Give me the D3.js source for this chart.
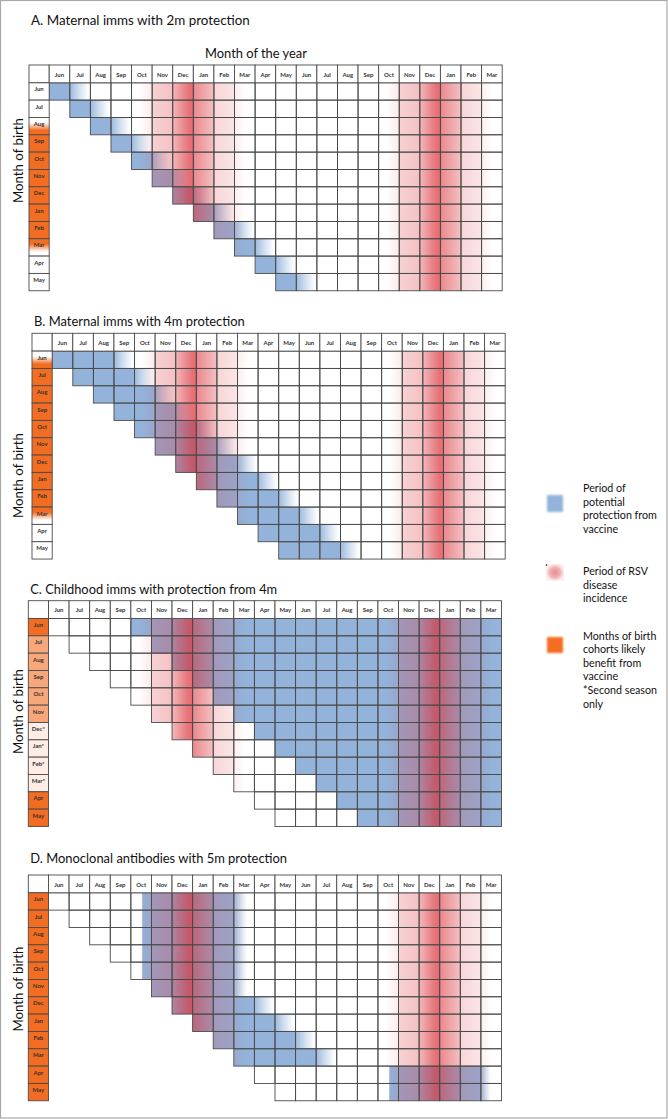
<!DOCTYPE html>
<html><head><meta charset="utf-8">
<script src="https://cdn.jsdelivr.net/npm/d3@7"></script>
<style>body{margin:0;background:#fff}svg{display:block}text{font-family:Lato,"Open Sans",sans-serif}</style>
</head><body><svg id="c" width="668" height="1119"></svg>
<script>
// ---------- DATA ----------
const monthCols = ["Jun","Jul","Aug","Sep","Oct","Nov","Dec","Jan","Feb","Mar","Apr","May","Jun","Jul","Aug","Sep","Oct","Nov","Dec","Jan","Feb","Mar"];
const birthMonths = ["Jun","Jul","Aug","Sep","Oct","Nov","Dec","Jan","Feb","Mar","Apr","May"];
const birthLabelsC = ["Jun","Jul","Aug","Sep","Oct","Nov","Dec*","Jan*","Feb*","Mar*","Apr","May"];
const rowStartCol = [0,1,2,3,4,5,6,7,8,9,10,11];
const panelTitles = ["A.  Maternal imms with 2m protection","B. Maternal imms with 4m protection","C. Childhood imms with protection from 4m","D. Monoclonal antibodies with 5m protection"];
const xAxisTitle = "Month of the year";
const yAxisTitle = "Month of birth";

// RSV season (Oct..Mar) start columns and incidence profile (months from Oct, relative level)
const rsvSeasonStartCol = [4, 16];
const rsvSeasonLength = 6;
const rsvOffset = [0, 0.35, 1.0, 1.0, 2.0, 2.0, 2.75, 3.0, 3.0, 4.0, 4.0, 5.0, 5.0, 5.55, 6.0];
const rsvLevel  = [0, 0,    0.14,0.3, 0.42,0.48,0.92, 1.0, 0.8, 0.42,0.28,0.17,0.11,0,    0];

// protection periods (column units): start, end of full protection, end of fading
const protStartA   = [0,1,2,3,4,5,6,7,8,9,10,11];
const protFullEndA = [1,2,3,4,5,6,7,8,9,10,11,12];
const protFadeEndA = [2,3,4,5,6,7,8,9,10,11,12,13];
const protStartB   = [0,1,2,3,4,5,6,7,8,9,10,11];
const protFullEndB = [3,4,5,6,7,8,9,10,11,12,13,14];
const protFadeEndB = [4,5,6,7,8,9,10,11,12,13,14,15];
const protStartC   = [4,5,6,7,8,9,10,11,12,13,14,15];
const protFullEndC = [22,22,22,22,22,22,22,22,22,22,22,22];
const protFadeEndC = [22,22,22,22,22,22,22,22,22,22,22,22];
const protStartD   = [4.55,4.55,4.55,4.55,4.55,5,6,7,8,9,16.55,16.55];
const protFullEndD = [9,9,9,9,9,9,10,11,12,13,21,21];
const protFadeEndD = [9.7,9.7,9.7,9.7,9.7,9.7,11,12,13,14,21.5,21.5];

// benefit shading of birth-month cohorts (0 none .. 1 full), at top and bottom of the label cell
const benefitTopA    = [0,0,0,1,1,1,1,1,1,1,0,0];
const benefitBottomA = [0,0,1,1,1,1,1,1,1,0,0,0];
const benefitTopB    = [0,1,1,1,1,1,1,1,1,1,0,0];
const benefitBottomB = [1,1,1,1,1,1,1,1,1,0,0,0];
const benefitTopC    = [1,0.6,0.6,0.6,0.6,0.6,0.12,0.12,0.12,0.12,1,1];
const benefitBottomC = [1,0.6,0.6,0.6,0.6,0.6,0.12,0.12,0.12,0.12,1,1];
const benefitTopD    = [1,1,1,1,1,1,1,1,1,1,1,1];
const benefitBottomD = [1,1,1,1,1,1,1,1,1,1,1,1];

const legendBlue = ["Period of","potential","protection from","vaccine"];
const legendRed = ["Period of RSV","disease","incidence"];
const legendOrange = ["Months of birth","cohorts likely","benefit from","vaccine","*Second season","only"];

// ---------- DRAW ----------
const BLUE = "#93b3db", ORANGE = "#f26d21", RED = "rgb(219,48,56)", GRID = "#4a4a4a";
const svg = d3.select("#c");
const defs = svg.append("defs");

svg.append("rect").attr("x",0.5).attr("y",0.5).attr("width",666.5).attr("height",1117.5)
  .attr("fill","#fff").attr("stroke","#a8a8a8").attr("stroke-width",1.2);

const rsvGrad = defs.append("linearGradient").attr("id","rsv").attr("x1",0).attr("x2",1).attr("y1",0).attr("y2",0);
rsvOffset.forEach((o,i)=>rsvGrad.append("stop").attr("offset",o/rsvSeasonLength).attr("stop-color",RED).attr("stop-opacity",rsvLevel[i]*0.72));

const bfade = defs.append("linearGradient").attr("id","bfade").attr("x1",0).attr("x2",1).attr("y1",0).attr("y2",0);
[[0,0.9],[0.45,0.42],[0.85,0.05],[1,0]].forEach(s=>bfade.append("stop").attr("offset",s[0]).attr("stop-color",BLUE).attr("stop-opacity",s[1]));

const orangeMix = d3.interpolateRgb("#ffffff", ORANGE);
function labelFill(t,b){
  if (t===b) return orangeMix(t);
  const id = "lab_"+String(t).replace(".","_")+"_"+String(b).replace(".","_");
  if (defs.select("#"+id).empty()){
    const gr = defs.append("linearGradient").attr("id",id).attr("x1",0).attr("x2",0).attr("y1",0).attr("y2",1);
    [[0,t],[0.3,t],[0.75,b],[1,b]].forEach(s=>gr.append("stop").attr("offset",s[0]).attr("stop-color",orangeMix(s[1])));
  }
  return "url(#"+id+")";
}

function fit(sel, w){
  const L = sel.node().getComputedTextLength();
  const fs = parseFloat(sel.attr("font-size"));
  sel.attr("font-size", fs*w/L);
  return sel;
}

const panels = [
  {key:"A", left:29,   top:65,    start:protStartA, full:protFullEndA, fade:protFadeEndA, bt:benefitTopA, bb:benefitBottomA, labels:birthMonths,
   title:panelTitles[0], titleY:25, titleW:219, yCenter:160.5},
  {key:"B", left:32,   top:333.3, start:protStartB, full:protFullEndB, fade:protFadeEndB, bt:benefitTopB, bb:benefitBottomB, labels:birthMonths,
   title:panelTitles[1], titleY:326, titleW:211, yCenter:475.5},
  {key:"C", left:28.3, top:600.7, start:protStartC, full:protFullEndC, fade:protFadeEndC, bt:benefitTopC, bb:benefitBottomC, labels:birthLabelsC,
   title:panelTitles[2], titleY:594, titleW:247, yCenter:711.5},
  {key:"D", left:28.3, top:875,   start:protStartD, full:protFullEndD, fade:protFadeEndD, bt:benefitTopD, bb:benefitBottomD, labels:birthMonths,
   title:panelTitles[3], titleY:862.5, titleW:257, yCenter:989}
];

const labelW = 20.2, colW = 20.59, headH = 17.8, rowH = 17.33;

panels.forEach(p=>{
  const g = svg.append("g");
  const x = d3.scaleLinear().domain([0, monthCols.length]).range([p.left+labelW, p.left+labelW+colW*monthCols.length]);
  const y = d3.scaleLinear().domain([0, birthMonths.length]).range([p.top+headH, p.top+headH+rowH*birthMonths.length]);
  const rows = birthMonths.map((d,i)=>i);

  // title
  fit(g.append("text").attr("x",p.left+2).attr("y",p.titleY).attr("font-size",14).attr("fill","#111").text(p.title), p.titleW);
  // y axis title
  fit(g.append("text").attr("transform",`translate(22.5,${p.yCenter}) rotate(-90)`).attr("text-anchor","middle")
      .attr("font-size",14).attr("fill","#111").text(yAxisTitle), 85);

  // clip of existing cells
  const clipId = "clip"+p.key;
  defs.append("clipPath").attr("id",clipId).selectAll("rect").data(rows).join("rect")
    .attr("x",i=>x(rowStartCol[i])).attr("y",i=>y(i))
    .attr("width",i=>x(monthCols.length)-x(rowStartCol[i])).attr("height",rowH);
  const body = g.append("g").attr("clip-path",`url(#${clipId})`);

  // protection (blue)
  body.selectAll("rect.full").data(rows.filter(i=>p.full[i]>p.start[i])).join("rect").attr("class","full")
    .attr("x",i=>x(p.start[i])).attr("y",i=>y(i)).attr("width",i=>x(p.full[i])-x(p.start[i])).attr("height",rowH).attr("fill",BLUE);
  body.selectAll("rect.fade").data(rows.filter(i=>p.fade[i]>p.full[i])).join("rect").attr("class","fade")
    .attr("x",i=>x(p.full[i])).attr("y",i=>y(i)).attr("width",i=>x(p.fade[i])-x(p.full[i])).attr("height",rowH).attr("fill","url(#bfade)");

  // RSV incidence (red)
  body.selectAll("rect.rsv").data(rsvSeasonStartCol).join("rect").attr("class","rsv")
    .attr("x",s=>x(s)).attr("width",s=>x(s+rsvSeasonLength)-x(s))
    .attr("y",y(0)).attr("height",y(birthMonths.length)-y(0)).attr("fill","url(#rsv)");

  // grid cells
  const cells = [];
  rows.forEach(i=>{ for(let c=rowStartCol[i]; c<monthCols.length; c++) cells.push({r:i,c:c}); });
  g.append("g").selectAll("rect").data(cells).join("rect")
    .attr("x",d=>x(d.c)).attr("y",d=>y(d.r)).attr("width",colW).attr("height",rowH)
    .attr("fill","none").attr("stroke",GRID).attr("stroke-width",0.9);

  // header
  const hg = g.append("g");
  hg.append("rect").attr("x",p.left).attr("y",p.top).attr("width",labelW).attr("height",headH)
    .attr("fill","#fff").attr("stroke",GRID).attr("stroke-width",0.9);
  hg.selectAll("rect.h").data(monthCols).join("rect").attr("class","h")
    .attr("x",(d,i)=>x(i)).attr("y",p.top).attr("width",colW).attr("height",headH)
    .attr("fill","#fff").attr("stroke",GRID).attr("stroke-width",0.9);
  hg.selectAll("text").data(monthCols).join("text")
    .attr("x",(d,i)=>x(i+0.5)).attr("y",p.top+11.6).attr("text-anchor","middle")
    .attr("font-size",6).attr("font-weight",700).attr("fill","#333").text(d=>d);

  // birth-month labels
  const lg = g.append("g");
  lg.selectAll("rect").data(rows).join("rect")
    .attr("x",p.left).attr("y",i=>y(i)).attr("width",labelW).attr("height",rowH)
    .attr("fill",i=>labelFill(p.bt[i],p.bb[i])).attr("stroke",GRID).attr("stroke-width",0.9);
  lg.selectAll("text").data(rows).join("text")
    .attr("x",p.left+labelW/2).attr("y",i=>y(i)+8.6).attr("text-anchor","middle")
    .attr("font-size",6).attr("font-weight",700).attr("fill","#333").text(i=>p.labels[i]);

  if (p.key==="A"){
    fit(g.append("text").attr("x",205).attr("y",58).attr("font-size",14).attr("fill","#111").text(xAxisTitle), 102);
  }
});

// ---------- LEGEND ----------
const lgd = svg.append("g");
const shadow = defs.append("filter").attr("id","soft").attr("x","-50%").attr("y","-50%").attr("width","200%").attr("height","200%");
shadow.append("feGaussianBlur").attr("stdDeviation",0.8);
lgd.append("rect").attr("x",547).attr("y",495).attr("width",16).attr("height",17).attr("fill",BLUE).attr("filter","url(#soft)");
const rg = defs.append("radialGradient").attr("id","pinkLeg");
[[0,0.55],[0.6,0.38],[1,0.08]].forEach(s=>rg.append("stop").attr("offset",s[0]).attr("stop-color",RED).attr("stop-opacity",s[1]));
lgd.append("rect").attr("x",546).attr("y",564).attr("width",18).attr("height",17).attr("fill","url(#pinkLeg)");
lgd.append("circle").attr("cx",546.5).attr("cy",565).attr("r",0.8).attr("fill","#111");
lgd.append("rect").attr("x",547).attr("y",637).attr("width",16).attr("height",16).attr("fill",ORANGE).attr("filter","url(#soft)");

// legend font size fitted so that "protection from" spans its width in the reference
const probe = lgd.append("text").attr("font-size",12).text("protection from");
fit(probe, 74);
const legendFs = parseFloat(probe.attr("font-size"));
probe.remove();

function legendText(lines, y0){
  lines.forEach((t,i)=>{
    lgd.append("text").attr("x",583).attr("y",y0+i*13.6).attr("font-size",legendFs).attr("fill","#111").text(t);
  });
}
legendText(legendBlue, 492);
legendText(legendRed, 575);
legendText(legendOrange, 639.5);
</script>
</body></html>
